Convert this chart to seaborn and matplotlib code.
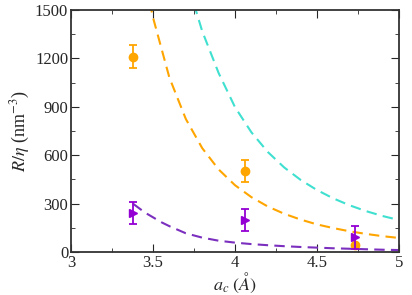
import numpy as np
import pandas as pd
import seaborn as sns
import matplotlib
matplotlib.use("Agg")
import matplotlib.pyplot as plt
from matplotlib.ticker import MultipleLocator

sns.set_style("ticks")
plt.rcParams["font.family"] = "serif"
plt.rcParams["font.serif"] = ["Liberation Serif"]
plt.rcParams["mathtext.fontset"] = "stix"
plt.rcParams["font.size"] = 12

# measured points (a_c, R/eta, error)
orange_x = [3.38, 4.06, 4.73]
orange_y = [1210, 500, 45]
orange_err = [70, 68, 0]

purple_x = [3.38, 4.06, 4.73]
purple_y = [240, 200, 90]
purple_err = [68, 68, 70]

# dashed curves
cyan_cx = [3.75, 3.8, 3.9, 4.0, 4.1, 4.2, 4.3, 4.4, 4.5, 4.6, 4.7, 4.8, 4.9, 5.0]
cyan_cy = [1537, 1369, 1110, 898, 742, 620, 524, 447, 384, 332, 289, 253, 223, 198]

orange_cx = [3.48, 3.5, 3.6, 3.7, 3.8, 3.9, 4.0, 4.1, 4.2, 4.3, 4.4, 4.5, 4.6, 4.7, 4.8, 4.9, 5.0]
orange_cy = [1548, 1454, 1081, 825, 644, 512, 414, 340, 282, 237, 201, 171, 148, 128, 112, 98, 87]

purple_cx = [3.38, 3.45, 3.5, 3.55, 3.6, 3.7, 3.8, 3.9, 4.0, 4.1, 4.2, 4.3, 4.4, 4.5, 4.6, 4.7, 4.8, 4.9, 5.0]
purple_cy = [298, 245, 215, 185, 160, 116, 89, 70, 58, 49, 42, 36, 31, 27, 23, 20, 17, 14, 12]

c_orange = "#FFA500"
c_purple = "#9400D3"
c_pline = "#7B2FBE"
c_cyan = "#40E0D0"

fig = plt.figure(figsize=(4.12, 2.95), dpi=100)
ax = fig.add_axes([0.1723, 0.1458, 0.7961, 0.8203])

dash = (0, (5, 3))
sns.lineplot(x=cyan_cx, y=cyan_cy, ax=ax, color=c_cyan, lw=1.5, linestyle=dash, sort=False)
sns.lineplot(x=orange_cx, y=orange_cy, ax=ax, color=c_orange, lw=1.5, linestyle=dash, sort=False)
sns.lineplot(x=purple_cx, y=purple_cy, ax=ax, color=c_pline, lw=1.5, linestyle=dash, sort=False)

ax.errorbar(orange_x, orange_y, yerr=orange_err, fmt="o", color=c_orange,
            ms=6, capsize=3, elinewidth=1.3, capthick=1.3, zorder=5)
ax.errorbar(purple_x, purple_y, yerr=purple_err, fmt=">", color=c_purple,
            ms=6, capsize=3, elinewidth=1.3, capthick=1.3, zorder=6)

ax.set_xlim(3, 5)
ax.set_ylim(0, 1500)
ax.xaxis.set_minor_locator(MultipleLocator(0.25))
ax.yaxis.set_major_locator(MultipleLocator(300))
ax.yaxis.set_minor_locator(MultipleLocator(150))
ax.set_xticks([3, 3.5, 4, 4.5, 5])
ax.set_xticklabels(["3", "3.5", "4", "4.5", "5"])
ax.tick_params(which="both", direction="in", top=True, right=True, labelsize=12, pad=2)
ax.tick_params(which="major", length=6)
ax.tick_params(which="minor", length=3)
for s in ax.spines.values():
    s.set_linewidth(1.3)
    s.set_color("#333333")

ax.set_ylabel(r"$R/\eta$ (nm$^{-3}$)", fontsize=13, labelpad=2)
ax.set_xlabel(r"$a_c\ (\AA)$", fontsize=13, labelpad=0)

fig.savefig("out.png", dpi=100)
